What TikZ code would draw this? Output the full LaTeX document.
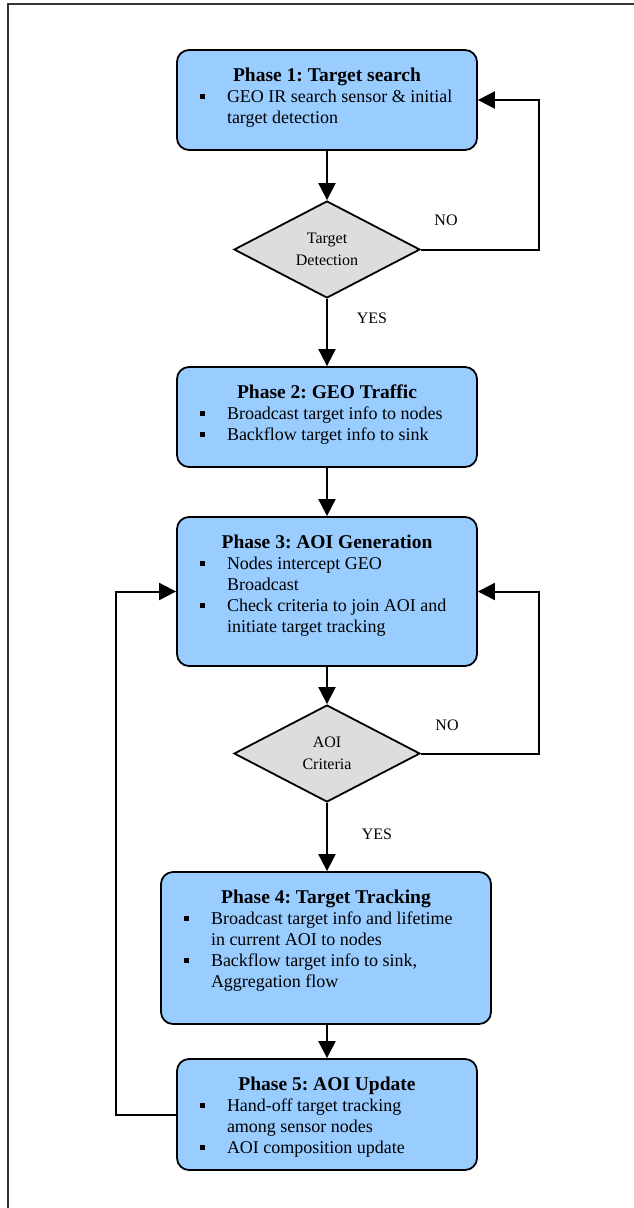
\documentclass[tikz,border=0pt]{standalone}
\usepackage{fontspec}
\setmainfont{Liberation Serif}
\usetikzlibrary{shapes.geometric}
\usetikzlibrary{arrows.meta}
\definecolor{phaseblue}{RGB}{153,204,255}
\definecolor{testgray}{RGB}{221,221,221}
\newcommand\phaseitem[1]{\par\hangindent=50pt\hangafter=1\noindent\hspace*{23pt}\makebox[27pt][l]{\rule[3.5pt]{4.5pt}{4.5pt}}#1}
\newcommand\phasetext[4]{\begin{minipage}[c][#2][t]{#1}\frenchspacing\fontsize{18}{21}\selectfont
{\centering\bfseries\fontsize{19.5}{21}\selectfont\rule{0pt}{31pt}#3\par}#4\end{minipage}}

\begin{document}
\begin{tikzpicture}[x=1pt,y=-1pt,
phase/.style={draw,rounded corners=12pt,fill=phaseblue,line width=1.8pt,inner sep=0pt},
test/.style={diamond,draw,fill=testgray,line width=1.8pt,minimum width=186pt,minimum height=97pt,inner sep=0pt,align=center,font=\fontsize{16}{22}\selectfont},
answer/.style={font=\fontsize{16}{18}\selectfont},
flow/.style={line width=2pt,-{Triangle[length=17pt,width=17pt]}}]
\useasboundingbox (0,0) rectangle (634,1208);
\draw[line width=1.8pt,black!80] (8,1208) -- (8,4) -- (634,4);
\node[phase] (p1) at (327,100) {\phasetext{300pt}{100pt}{Phase 1: Target search}
{\phaseitem{GEO IR search sensor \& initial\\target detection}}};
\node[test] (d1) at (327,249.5) {Target\\Detection};
\node[phase] (p2) at (327,417) {\phasetext{300pt}{100pt}{Phase 2: GEO Traffic}
{\phaseitem{Broadcast target info to nodes}\phaseitem{Backflow target info to sink}}};
\node[phase] (p3) at (327,591.5) {\phasetext{300pt}{149pt}{Phase 3: AOI Generation}
{\phaseitem{Nodes intercept GEO\\Broadcast}\phaseitem{Check criteria to join AOI and\\initiate target tracking}}};
\node[test] (d2) at (327,753.5) {AOI\\Criteria};
\node[phase] (p4) at (326,948) {\phasetext{330pt}{152pt}{Phase 4: Target Tracking}
{\phaseitem{Broadcast target info and lifetime\\in current AOI to nodes}\phaseitem{Backflow target info to sink,\\Aggregation flow}}};
\node[phase] (p5) at (327,1114.5) {\phasetext{300pt}{111pt}{Phase 5: AOI Update}
{\phaseitem{Hand-off target tracking\\among sensor nodes}\phaseitem{AOI composition update}}};
\node[answer] (no1) at (446,220) {NO};
\node[answer] (yes1) at (372,318) {YES};
\node[answer] (no2) at (447,725) {NO};
\node[answer] (yes2) at (377,834) {YES};
\draw[flow] (p1) -- (d1);
\draw[flow] (d1) -- (p2);
\draw[flow] (d1.east) -- ++(118,0) |- (p1.east);
\draw[flow] (p2) -- (p3);
\draw[flow] (p3) -- (d2);
\draw[flow] (d2.east) -- ++(118,0) |- (p3.east);
\draw[flow] (d2) -- (d2 |- p4.north);
\draw[flow] (p4.south -| p5) -- (p5);
\draw[flow] (p5.west) -- ++(-60,0) |- (p3.west);
\end{tikzpicture}
\end{document}
